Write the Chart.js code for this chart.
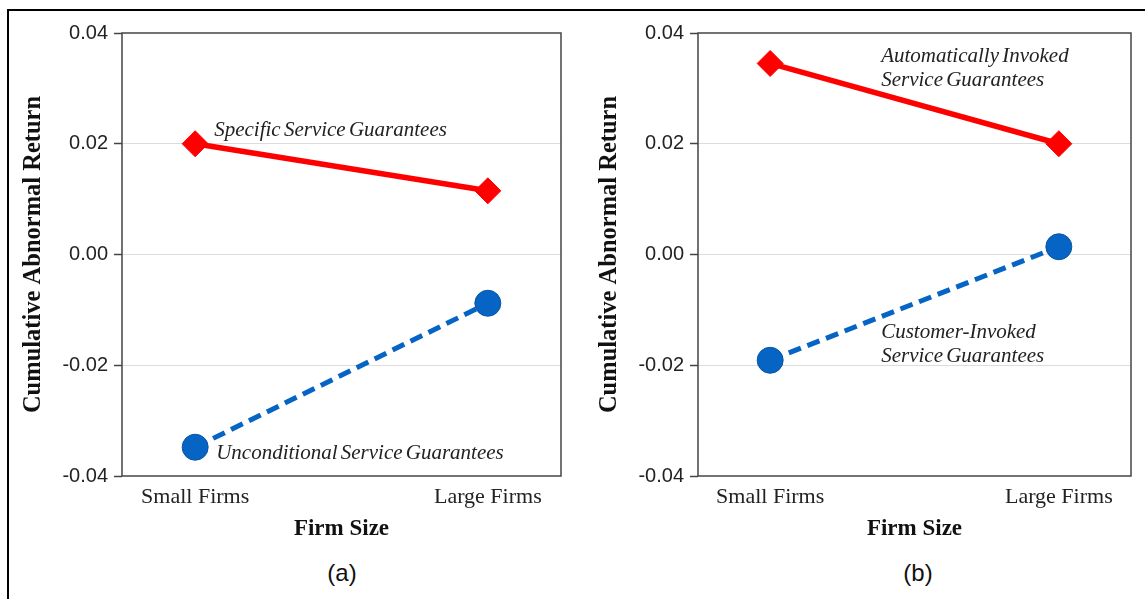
<!DOCTYPE html>
<html>
<head>
<meta charset="utf-8">
<script src="https://cdn.jsdelivr.net/npm/chart.js@4.4.0/dist/chart.umd.min.js"></script>
<style>
  html, body { margin: 0; padding: 0; background: #fff; overflow: hidden; }
  #frame { position: absolute; left: 7px; top: 9px; width: 1300px; height: 800px;
           border-left: 2.5px solid #000; border-top: 2.5px solid #000; }
  .panel { position: absolute; top: 0; height: 542px; }
  .cap { position: absolute; font: 24px "Liberation Sans", Arial, sans-serif; color: #111;
         transform: translate(-50%, -50%); }
</style>
</head>
<body>
<div id="frame"></div>
<div class="panel" style="left:0;width:575px"><canvas id="panelA"></canvas></div>
<div class="panel" style="left:576px;width:569px"><canvas id="panelB"></canvas></div>
<div class="cap" style="left:342px;top:573px">(a)</div>
<div class="cap" style="left:918px;top:573px">(b)</div>

<script>
// Firm-size categories and tick values
const firmSizes = ['Small Firms', 'Large Firms'];
const yTickValues = [-0.04, -0.02, 0.00, 0.02, 0.04];

// Cumulative abnormal returns, panel (a)
const specificCAR = [0.0200, 0.0115];
const unconditionalCAR = [-0.0348, -0.0088];

// Cumulative abnormal returns, panel (b)
const automaticCAR = [0.0345, 0.0200];
const customerCAR = [-0.0191, 0.0014];

const RED = '#ff0000';
const BLUE = '#0664c4';
const SERIF = '"Liberation Serif", "Times New Roman", serif';
const SANS = '"Liberation Sans", Arial, sans-serif';

const toPoints = vals => vals.map((v, i) => ({ x: i, y: v }));

function solidSeries(vals) {
  return {
    data: toPoints(vals),
    borderColor: RED, backgroundColor: RED, borderWidth: 5.5,
    pointStyle: 'rectRot', pointRadius: 13, pointBorderWidth: 1,
    pointBorderColor: RED, pointBackgroundColor: RED, clip: false
  };
}
function dashedSeries(vals) {
  return {
    data: toPoints(vals),
    borderColor: BLUE, backgroundColor: BLUE, borderWidth: 5, borderDash: [13, 7],
    pointStyle: 'circle', pointRadius: 13, pointBorderWidth: 1,
    pointBorderColor: '#0a56a4', pointBackgroundColor: BLUE, clip: false
  };
}

// Box around the plotting area
const boxPlugin = {
  id: 'plotBox',
  beforeDatasetsDraw(chart) {
    const a = chart.chartArea, ctx = chart.ctx;
    ctx.save();
    ctx.strokeStyle = '#444';
    ctx.lineWidth = 1.5;
    ctx.strokeRect(a.left, a.top, a.right - a.left, a.bottom - a.top);
    ctx.restore();
  }
};

// Italic series labels placed next to a data point
function notesPlugin(notes) {
  return {
    id: 'seriesNotes',
    afterDatasetsDraw(chart) {
      const ctx = chart.ctx;
      ctx.save();
      ctx.font = 'italic 21px ' + SERIF;
      if ('wordSpacing' in ctx) ctx.wordSpacing = '-2px';
      ctx.fillStyle = '#222';
      ctx.textAlign = 'left';
      ctx.textBaseline = 'middle';
      notes.forEach(n => {
        const pt = chart.getDatasetMeta(n.ds).data[n.idx];
        n.lines.forEach((t, k) => ctx.fillText(t, pt.x + n.dx, pt.y + n.dy + k * 24));
      });
      ctx.restore();
    }
  };
}

function makeChart(id, datasets, notes, rightPad) {
  return new Chart(document.getElementById(id), {
    type: 'line',
    data: { datasets },
    options: {
      responsive: true,
      maintainAspectRatio: false,
      animation: false,
      events: [],
      layout: { padding: { top: 33, right: rightPad, bottom: 0, left: 0 } },
      plugins: { legend: { display: false }, tooltip: { enabled: false } },
      scales: {
        x: {
          type: 'linear', min: -0.25, max: 1.25,
          afterBuildTicks: s => { s.ticks = firmSizes.map((_, i) => ({ value: i })); },
          afterFit: s => { s.height = 66; },
          grid: { display: false, drawTicks: false },
          border: { display: false },
          ticks: {
            callback: v => firmSizes[v],
            font: { family: SERIF, size: 22 }, color: '#222', padding: 8, maxRotation: 0
          },
          title: {
            display: true, text: 'Firm Size', color: '#111',
            font: { family: SERIF, size: 23, weight: 'bold', lineHeight: 1.2 },
            padding: { top: 0, bottom: -1 }
          }
        },
        y: {
          min: -0.04, max: 0.04,
          afterBuildTicks: s => { s.ticks = yTickValues.map(v => ({ value: v })); },
          afterFit: s => { s.width = 122; },
          grid: {
            color: c => (Math.abs(Math.abs(c.tick.value) - 0.04) < 1e-9 ? 'rgba(0,0,0,0)' : '#dcdcdc'),
            lineWidth: 1, tickColor: '#444', tickLength: 8, tickWidth: 1.5
          },
          border: { display: false },
          ticks: {
            callback: v => v.toFixed(2),
            font: { family: SANS, size: 20 }, color: '#222', padding: 6
          },
          title: {
            display: true, text: 'Cumulative Abnormal Return', color: '#111',
            font: { family: SERIF, size: 24.5, weight: 'bold', lineHeight: 1.2 },
            padding: { top: 19, bottom: 0 }
          }
        }
      }
    },
    plugins: [boxPlugin, notesPlugin(notes)]
  });
}

makeChart('panelA',
  [solidSeries(specificCAR), dashedSeries(unconditionalCAR)],
  [
    { ds: 0, idx: 0, dx: 19, dy: -13, lines: ['Specific Service Guarantees'] },
    { ds: 1, idx: 0, dx: 21, dy: 6, lines: ['Unconditional Service Guarantees'] }
  ], 13);

makeChart('panelB',
  [solidSeries(automaticCAR), dashedSeries(customerCAR)],
  [
    { ds: 0, idx: 0, dx: 111, dy: -7, lines: ['Automatically Invoked', 'Service Guarantees'] },
    { ds: 1, idx: 0, dx: 111, dy: -28, lines: ['Customer-Invoked', 'Service Guarantees'] }
  ], 7);
</script>
</body>
</html>
